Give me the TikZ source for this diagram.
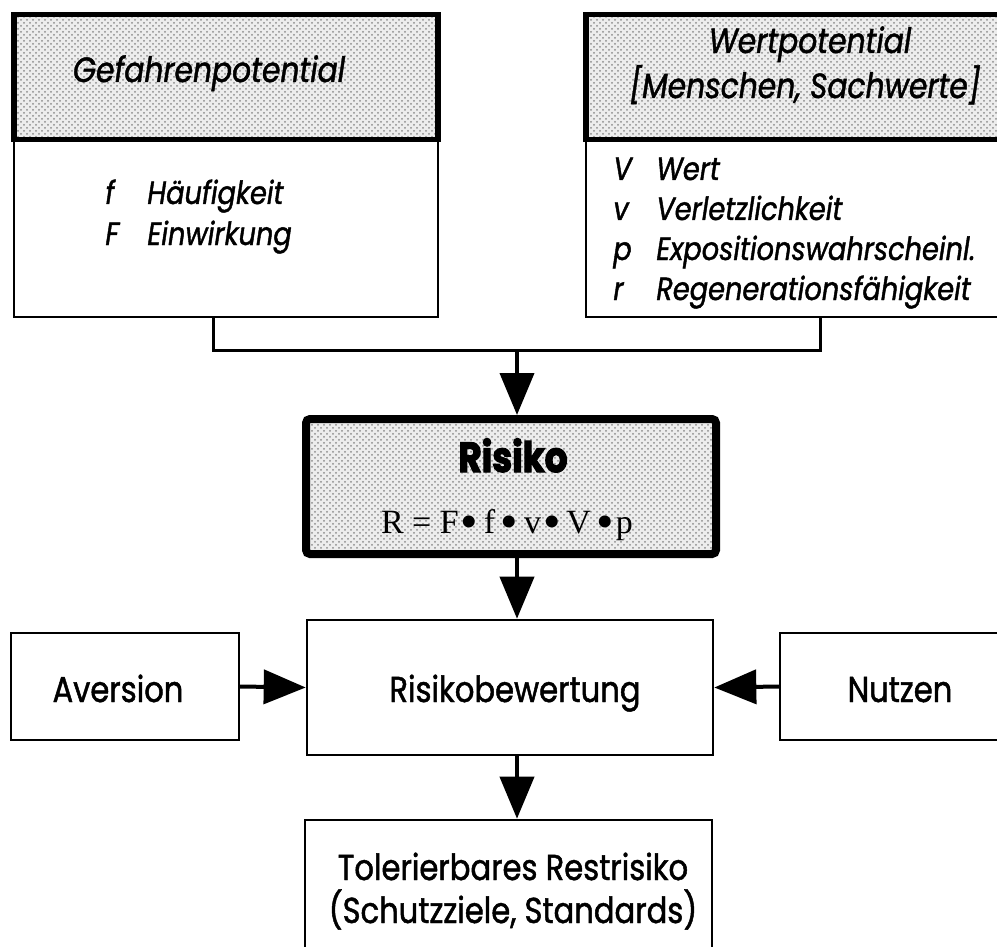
\documentclass[tikz,border=0pt]{standalone}
\usepackage{fontspec}
\setmainfont{Poppins}[FakeStretch=0.85,FakeBold=1.3]
\newfontfamily\formfont{Liberation Serif}
\newcommand\mybul{{\fontsize{25}{20}\selectfont\raisebox{-0.1em}{•}}}
\usetikzlibrary{arrows.meta,patterns,calc}
\begin{document}
\begin{tikzpicture}[x=0.5pt,y=-0.5pt,
  thinbox/.style={draw,line width=0.8pt,inner sep=0pt,fill=white},
  midbox/.style={draw,line width=1.3pt,inner sep=0pt,fill=white},
  headbox/.style={draw,line width=2.8pt,inner sep=0pt,preaction={fill=black!7},pattern=crosshatch dots,pattern color=black!45},
  riskbox/.style={draw,line width=4pt,rounded corners=2pt,inner sep=0pt,preaction={fill=black!7},pattern=crosshatch dots,pattern color=black!45},
  txt/.style={inner sep=0pt,anchor=base},
  ltxt/.style={inner sep=0pt,anchor=base west},
  headfont/.style={font=\itshape\fontsize{17.5}{20}\selectfont},
  listfont/.style={font=\itshape\fontsize{16}{18}\selectfont},
  bigfont/.style={font=\fontsize{18}{21}\selectfont},
  conn/.style={line width=1.5pt},
  arr/.style={line width=2pt,-{Triangle[length=21pt,width=17pt]}}
]
\useasboundingbox (0,0) rectangle (997,947);
\clip (0,0) rectangle (997,947);

% left block
\node[thinbox,minimum width=212pt,minimum height=89pt] (gefb) at (226,228) {};
\node[headbox,minimum width=212pt,minimum height=62.5pt] (gefh) at (226,77) {};
\node[txt,headfont] (gt) at (209,82) {Gefahrenpotential};
\node[ltxt,listfont] (gf1) at (105,204) {f};
\node[ltxt,listfont] (gw1) at (147,204) {Häufigkeit};
\node[ltxt,listfont] (gf2) at (105,245) {F};
\node[ltxt,listfont] (gw2) at (147,245) {Einwirkung};

% right block
\node[thinbox,minimum width=224pt,minimum height=89pt] (werb) at (810,228) {};
\node[headbox,minimum width=224pt,minimum height=62.5pt] (werh) at (810,77) {};
\node[txt,headfont] (wt1) at (810,53) {Wertpotential};
\node[txt,headfont] (wt2) at (805,98) {[Menschen, Sachwerte]};
\node[ltxt,listfont] (wl1) at (613,180) {V};
\node[ltxt,listfont] (ww1) at (656,180) {Wert};
\node[ltxt,listfont] (wl2) at (613,220) {v};
\node[ltxt,listfont] (ww2) at (656,220) {Verletzlichkeit};
\node[ltxt,listfont] (wl3) at (613,260) {p};
\node[ltxt,listfont] (ww3) at (656,260) {Expositionswahrscheinl.};
\node[ltxt,listfont] (wl4) at (613,300) {r};
\node[ltxt,listfont] (ww4) at (656,300) {Regenerationsfähigkeit};

% Risiko
\node[riskbox,minimum width=205pt,minimum height=67.5pt] (risk) at (511,486.5) {};
\node[txt,font=\bfseries\fontsize{21}{24}\selectfont\addfontfeature{FakeBold=3}] (rt) at (513,472) {Risiko};
\node[txt,font=\formfont\fontsize{17}{20}\selectfont] (rf) at (507,533) {R = F\kern1pt\mybul\,f\,\mybul\,v\kern1pt\mybul\,V\,\mybul\kern1pt p};

% Bewertung row
\node[midbox,minimum width=203pt,minimum height=67.5pt] (bew) at (510,687.5) {};
\node[txt,bigfont] (bt) at (515,702) {Risikobewertung};
\node[thinbox,minimum width=114pt,minimum height=53.5pt] (av) at (125,686.5) {};
\node[txt,bigfont] (avt) at (118,702) {Aversion};
\node[thinbox,minimum width=115pt,minimum height=53.5pt] (nu) at (895,686.5) {};
\node[txt,bigfont] (nut) at (900,702) {Nutzen};

% Tolerierbares
\node[midbox,minimum width=203.5pt,minimum height=70pt] (tol) at (508.5,890) {};
\node[txt,bigfont] (tt1) at (513,880) {Tolerierbares Restrisiko};
\node[txt,bigfont] (tt2) at (513,923) {(Schutzziele, Standards)};

% connectors
\coordinate (jl) at (213,350);
\coordinate (jr) at (820,350);
\coordinate (jm) at (517,350);
\draw[conn] (gefb.south -| jl) -- (jl) -- (jr) -- (werb.south -| jr);
\draw[arr] (jm) -- (risk.north -| jm);
\draw[arr] (risk.south -| jm) -- (bew.north -| jm);
\draw[arr] (bew.south -| jm) -- (tol.north -| jm);
\draw[arr] (av.east) -- (bew.west);
\draw[arr] (nu.west) -- (bew.east);
\end{tikzpicture}
\end{document}
